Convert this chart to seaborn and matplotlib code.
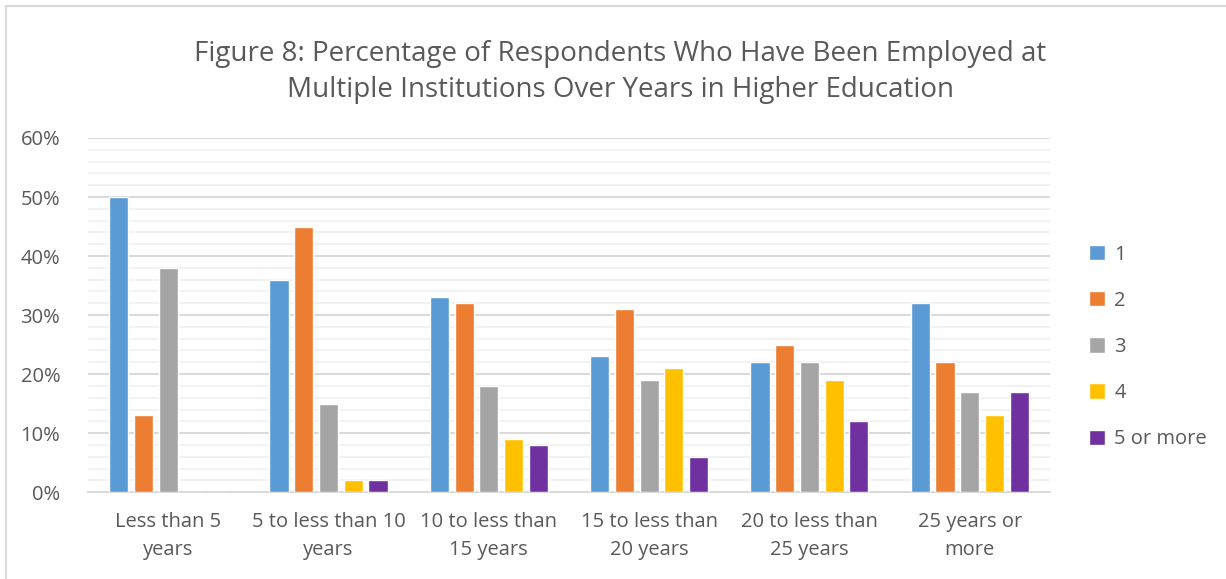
import matplotlib
matplotlib.use("Agg")
import matplotlib.pyplot as plt
from matplotlib.patches import Rectangle
from matplotlib.ticker import MultipleLocator, PercentFormatter
import seaborn as sns
import pandas as pd

categories = ["Less than 5\nyears", "5 to less than 10\nyears", "10 to less than\n15 years",
              "15 to less than\n20 years", "20 to less than\n25 years", "25 years or\nmore"]
series = ["1", "2", "3", "4", "5 or more"]
values_1 = [50, 36, 33, 23, 22, 32]
values_2 = [13, 45, 32, 31, 25, 22]
values_3 = [38, 15, 18, 19, 22, 17]
values_4 = [0, 2, 9, 21, 19, 13]
values_5 = [0, 2, 8, 6, 12, 17]
colors = ["#5b9bd5", "#ed7d31", "#a5a5a5", "#ffc000", "#7030a0"]

rows = []
for s, vals in zip(series, [values_1, values_2, values_3, values_4, values_5]):
    for c, v in zip(categories, vals):
        rows.append({"category": c, "count": s, "pct": v})
df = pd.DataFrame(rows)

sns.set_style("white")
plt.rcParams["font.family"] = ["Open Sans", "DejaVu Sans"]
text_color = "#595959"

fig = plt.figure(figsize=(12.26, 5.79), dpi=100)
ax = fig.add_axes([0.0718, 0.150, 0.7846, 0.6117])

sns.barplot(data=df, x="category", y="pct", hue="count", palette=colors,
            width=0.77, ax=ax, zorder=3, legend=True, saturation=1)

# narrow bars to leave small gaps like the original
for p in ax.patches:
    w = p.get_width()
    if w == 0:
        continue
    p.set_x(p.get_x() + w * 0.11)
    p.set_width(w * 0.78)

ax.set_ylim(0, 60)
ax.set_xlim(-0.5, 5.5)
ax.yaxis.set_major_locator(MultipleLocator(10))
ax.yaxis.set_minor_locator(MultipleLocator(2))
ax.yaxis.set_major_formatter(PercentFormatter(decimals=0))
ax.grid(axis="y", which="major", color="#d9d9d9", linewidth=1.4, zorder=0)
ax.grid(axis="y", which="minor", color="#f2f2f2", linewidth=1.4, zorder=0)
ax.set_axisbelow(True)
for side in ["top", "right", "left"]:
    ax.spines[side].set_visible(False)
ax.spines["bottom"].set_color("#d9d9d9")
ax.spines["bottom"].set_linewidth(1.4)
ax.tick_params(axis="both", which="both", length=0, labelsize=14.5, colors=text_color)
ax.tick_params(axis="y", pad=20)
ax.tick_params(axis="x", pad=14)
for t in ax.get_xticklabels():
    t.set_linespacing(1.55)
ax.set_xlabel("")
ax.set_ylabel("")

leg = ax.legend(loc="center left", bbox_to_anchor=(1.022, 0.41), frameon=False,
                fontsize=14.5, labelspacing=1.3, handlelength=0.8, handleheight=0.8,
                handletextpad=0.45)
for t in leg.get_texts():
    t.set_color(text_color)

fig.text(0.506, 0.876, "Figure 8: Percentage of Respondents Who Have Been Employed at\n"
         "Multiple Institutions Over Years in Higher Education",
         ha="center", va="center", fontsize=20, color=text_color, linespacing=1.4)

fig.patches.append(Rectangle((6 / 1226, -0.1), 1.2, 1.1 - 6 / 579, transform=fig.transFigure,
                             fill=False, edgecolor="#d9d9d9", linewidth=1.5))

fig.savefig("out.png", dpi=100)
